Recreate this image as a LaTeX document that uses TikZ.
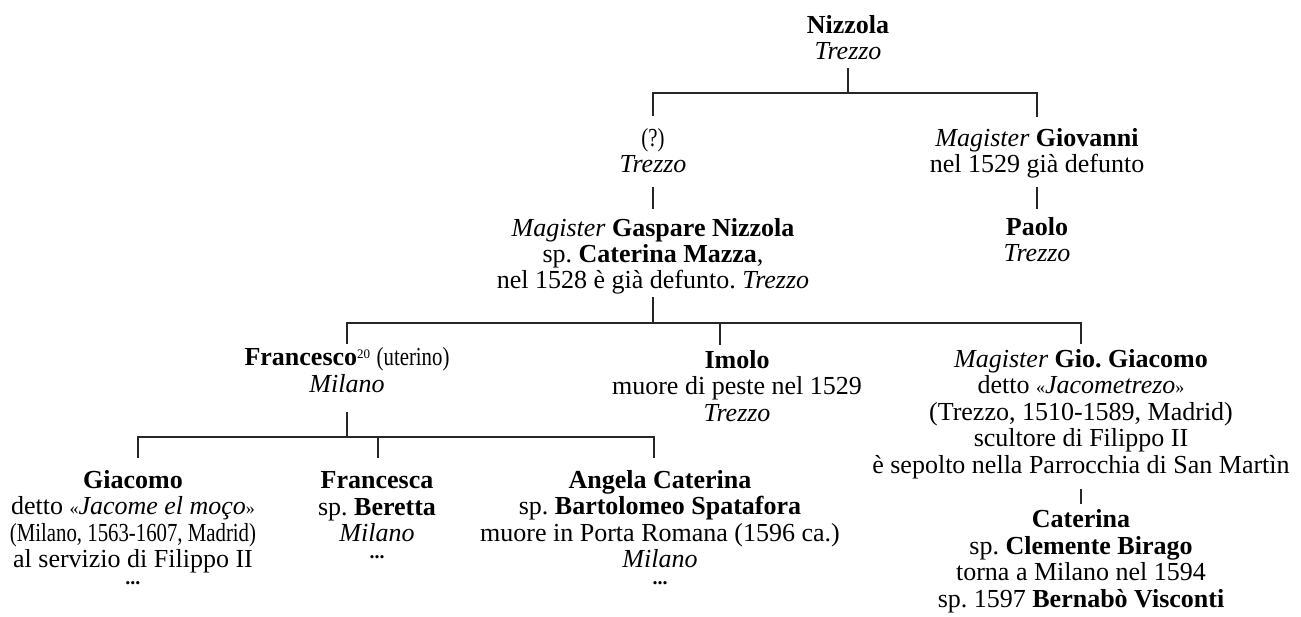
\documentclass[tikz,border=0pt]{standalone}
\usepackage{fontspec}
\setmainfont{Liberation Serif}
\usepackage{graphicx}
\frenchspacing
\begin{document}
\begin{tikzpicture}[x=1pt,y=1pt,
  person/.style={anchor=base,align=center,inner sep=0pt,font=\fontsize{26}{26.4}\selectfont\frenchspacing},
  link/.style={line width=1.2pt,line cap=rect,color=black!85}]
\useasboundingbox (0,0) rectangle (1301,-617);
\newcommand{\cnd}[1]{\scalebox{0.8}[1]{#1}}
\newcommand{\dts}{\\[-10pt]{\fontsize{20}{20}\selectfont\textbf{...}}}
\newcommand{\supnum}[1]{\raisebox{7pt}{\fontsize{13}{13}\selectfont #1}}
\newcommand{\gql}{{\fontsize{18}{18}\selectfont «}}
\newcommand{\gqr}{{\fontsize{18}{18}\selectfont »}}
% nodes (anchored at the baseline of their last line)
\node[person] (niz) at (848,-60) {\textbf{Nizzola}\\\textit{Trezzo}};
\node[person] (q) at (653,-173) {\cnd{(?)}\\\textit{Trezzo}};
\node[person] (giov) at (1037,-173) {\textit{Magister} \textbf{Giovanni}\\nel 1529 già defunto};
\node[person] (gasp) at (653,-289) {\textit{Magister} \textbf{Gaspare Nizzola}\\sp. \textbf{Caterina Mazza},\\nel 1528 è già defunto. \textit{Trezzo}};
\node[person] (paolo) at (1037,-262) {\textbf{Paolo}\\\textit{Trezzo}};
\node[person] (fran) at (347,-392) {\textbf{Francesco}\supnum{20} \cnd{(uterino)}\\\textit{Milano}};
\node[person] (imolo) at (737,-421) {\textbf{Imolo}\\muore di peste nel 1529\\\textit{Trezzo}};
\node[person] (gio) at (1081,-473) {\textit{Magister} \textbf{Gio. Giacomo}\\detto \gql\textit{Jacometrezo}\gqr\\(Trezzo, 1510-1589, Madrid)\\scultore di Filippo II\\è sepolto nella Parrocchia di San Martìn};
\node[person] (giac) at (133,-584) {\textbf{Giacomo}\\detto \gql\textit{Jacome el moço}\gqr\\\cnd{(Milano, 1563-1607, Madrid)}\\al servizio di Filippo II\dts};
\node[person] (franc) at (377,-558) {\textbf{Francesca}\\sp. \textbf{Beretta}\\\textit{Milano}\dts};
\node[person] (angela) at (660,-584) {\textbf{Angela Caterina}\\sp. \textbf{Bartolomeo Spatafora}\\muore in Porta Romana (1596 ca.)\\\textit{Milano}\dts};
\node[person] (cat) at (1081,-607) {\textbf{Caterina}\\sp. \textbf{Clemente Birago}\\torna a Milano nel 1594\\sp. 1597 \textbf{Bernabò Visconti}};
% connector coordinates
\coordinate (nizB) at (848,-69);  \coordinate (bar1) at (848,-93);
\coordinate (qT) at (653,-115);   \coordinate (giovT) at (1037,-116);
\coordinate (qB) at (653,-188);   \coordinate (gaspT) at (653,-208);
\coordinate (giovB) at (1037,-188); \coordinate (paoloT) at (1037,-208);
\coordinate (gaspB) at (653,-298); \coordinate (bar2) at (653,-323);
\coordinate (franT) at (347,-343); \coordinate (imoloT) at (720,-344); \coordinate (gioT) at (1081,-343);
\coordinate (franB) at (347,-413); \coordinate (bar3) at (347,-437);
\coordinate (giacT) at (138,-457); \coordinate (francT) at (378,-457); \coordinate (angelaT) at (654,-457);
\coordinate (gioB) at (1081,-490); \coordinate (catT) at (1081,-503);
% connectors
\draw[link] (nizB) -- (bar1);
\draw[link] (qT) |- (bar1) -| (giovT);
\draw[link] (qB) -- (gaspT);
\draw[link] (giovB) -- (paoloT);
\draw[link] (gaspB) -- (bar2);
\draw[link] (franT) |- (bar2) -| (gioT);
\draw[link] (imoloT) -- (imoloT |- bar2);
\draw[link] (franB) -- (bar3);
\draw[link] (giacT) |- (bar3) -| (angelaT);
\draw[link] (francT) -- (francT |- bar3);
\draw[link] (gioB) -- (catT);
\end{tikzpicture}
\end{document}
